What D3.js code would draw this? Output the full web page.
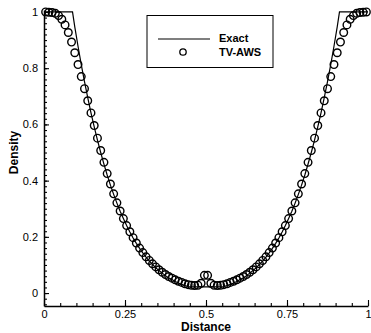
<!DOCTYPE html>
<html>
<head>
<meta charset="utf-8">
<script src="https://cdn.jsdelivr.net/npm/d3@7"></script>
<style>
  body { margin: 0; background: #fff; }
  text { font-family: "Liberation Sans", Arial, sans-serif; fill: #000; }
</style>
</head>
<body>
<svg id="chart"></svg>
<script>
const width = 371, height = 333;

// exact solution (distance, density)
const exactX = [0, 0.088, 0.095, 0.105, 0.115, 0.125, 0.135, 0.145, 0.155, 0.165, 0.175, 0.185, 0.195,
  0.205, 0.215, 0.225, 0.235, 0.245, 0.255, 0.265, 0.275, 0.285, 0.295, 0.305, 0.315, 0.325, 0.335,
  0.345, 0.355, 0.365, 0.375, 0.385, 0.395, 0.405, 0.415, 0.425, 0.435, 0.445, 0.448,
  0.552, 0.555, 0.565, 0.575, 0.585, 0.595, 0.605, 0.615, 0.625, 0.635, 0.645, 0.655, 0.665, 0.675,
  0.685, 0.695, 0.705, 0.715, 0.725, 0.735, 0.745, 0.755, 0.765, 0.775, 0.785, 0.795, 0.805, 0.815,
  0.825, 0.835, 0.845, 0.855, 0.865, 0.875, 0.885, 0.895, 0.905, 0.912, 1];
const exactRho = [1, 1, 0.947, 0.878, 0.813, 0.752, 0.695, 0.641, 0.591, 0.544, 0.500, 0.459, 0.420,
  0.384, 0.351, 0.320, 0.291, 0.265, 0.240, 0.217, 0.196, 0.177, 0.159, 0.143, 0.128, 0.114, 0.102,
  0.090, 0.080, 0.071, 0.062, 0.054, 0.048, 0.041, 0.036, 0.031, 0.027, 0.023, 0.022,
  0.022, 0.023, 0.027, 0.031, 0.036, 0.041, 0.048, 0.054, 0.062, 0.071, 0.080, 0.090, 0.102, 0.114,
  0.128, 0.143, 0.159, 0.177, 0.196, 0.217, 0.240, 0.265, 0.291, 0.320, 0.351, 0.384, 0.420, 0.459,
  0.500, 0.544, 0.591, 0.641, 0.695, 0.752, 0.813, 0.878, 0.947, 1, 1];

// TV-AWS cell values, 100 cells
const cellX = d3.range(100).map(i => (i + 0.5) / 100);
const awsRho = [
  1.000, 0.999, 0.998, 0.995, 0.987, 0.974, 0.954, 0.927, 0.893, 0.855,
  0.813, 0.770, 0.727, 0.684, 0.641, 0.596, 0.551, 0.507, 0.465, 0.425,
  0.388, 0.353, 0.321, 0.292, 0.265, 0.240, 0.218, 0.197, 0.178, 0.160,
  0.144, 0.129, 0.116, 0.104, 0.093, 0.083, 0.074, 0.066, 0.059, 0.053,
  0.047, 0.042, 0.038, 0.033, 0.030, 0.028, 0.027, 0.028, 0.035, 0.063,
  0.063, 0.035, 0.028, 0.027, 0.028, 0.030, 0.033, 0.038, 0.042, 0.047,
  0.053, 0.059, 0.066, 0.074, 0.083, 0.093, 0.104, 0.116, 0.129, 0.144,
  0.160, 0.178, 0.197, 0.218, 0.240, 0.265, 0.292, 0.321, 0.353, 0.388,
  0.425, 0.465, 0.507, 0.551, 0.596, 0.641, 0.684, 0.727, 0.770, 0.813,
  0.855, 0.893, 0.927, 0.954, 0.974, 0.987, 0.995, 0.998, 0.999, 1.000];

const xTicks = [0, 0.25, 0.5, 0.75, 1];
const xTickLabels = ["0", "0.25", "0.5", "0.75", "1"];
const yTicks = [0, 0.2, 0.4, 0.6, 0.8, 1];
const yTickLabels = ["0", "0.2", "0.4", "0.6", "0.8", "1"];

const svg = d3.select("#chart")
              .attr("width", width)
              .attr("height", height);

const x = d3.scaleLinear().domain([0, 1]).range([44, 368]);
const y = d3.scaleLinear().domain([-0.046, 1.007]).range([306, 10]);

// minor ticks
svg.append("g")
   .attr("transform", `translate(0,${y.range()[0]})`)
   .call(d3.axisBottom(x).tickValues(d3.range(0, 1.0001, 0.05)).tickSize(-3).tickSizeOuter(0).tickFormat(""))
   .call(g => g.select(".domain").remove());
svg.append("g")
   .attr("transform", `translate(${x.range()[0]},0)`)
   .call(d3.axisLeft(y).tickValues(d3.range(-0.04, 1.0001, 0.02)).tickSize(-3).tickSizeOuter(0).tickFormat(""))
   .call(g => g.select(".domain").remove());

// major axes
const xAxis = svg.append("g")
   .attr("transform", `translate(0,${y.range()[0]})`)
   .call(d3.axisBottom(x).tickValues(xTicks).tickSize(-6).tickSizeOuter(0).tickPadding(4)
          .tickFormat((d, i) => xTickLabels[i]));
const yAxis = svg.append("g")
   .attr("transform", `translate(${x.range()[0]},0)`)
   .call(d3.axisLeft(y).tickValues(yTicks).tickSize(-5).tickSizeOuter(0).tickPadding(6)
          .tickFormat((d, i) => yTickLabels[i]));

[xAxis, yAxis].forEach(g => {
  g.selectAll("text").style("font-size", "11px").attr("fill", "#000");
  g.select(".domain").attr("stroke-width", 1.5);
});
svg.selectAll(".tick line").attr("stroke", "#000").attr("stroke-width", 1.1);

// axis titles
svg.append("text")
   .attr("x", x(0.5)).attr("y", 331)
   .attr("text-anchor", "middle")
   .style("font-size", "12px").style("font-weight", "bold")
   .text("Distance");
svg.append("text")
   .attr("transform", `translate(18,${y(0.5)}) rotate(-90)`)
   .attr("text-anchor", "middle")
   .style("font-size", "12px").style("font-weight", "bold")
   .text("Density");

// exact line
const line = d3.line().x(d => x(d[0])).y(d => y(d[1]));
svg.append("path")
   .datum(exactX.map((d, i) => [d, exactRho[i]]))
   .attr("d", line)
   .attr("fill", "none")
   .attr("stroke", "#000")
   .attr("stroke-width", 1.2);

// TV-AWS symbols
svg.append("g")
   .selectAll("circle")
   .data(cellX.map((d, i) => [d, awsRho[i]]))
   .enter()
   .append("circle")
   .attr("cx", d => x(d[0]))
   .attr("cy", d => y(d[1]))
   .attr("r", 3.8)
   .attr("fill", "none")
   .attr("stroke", "#000")
   .attr("stroke-width", 1.4);

// legend
const legend = svg.append("g");
legend.append("rect")
      .attr("x", 147).attr("y", 15.5)
      .attr("width", 126).attr("height", 52)
      .attr("fill", "#fff").attr("stroke", "#000").attr("stroke-width", 1);
legend.append("line")
      .attr("x1", 158).attr("x2", 210).attr("y1", 39).attr("y2", 39)
      .attr("stroke", "#000").attr("stroke-width", 1.2);
legend.append("circle")
      .attr("cx", 183).attr("cy", 52).attr("r", 3.2)
      .attr("fill", "none").attr("stroke", "#000").attr("stroke-width", 1.3);
legend.append("text")
      .attr("x", 219).attr("y", 42)
      .style("font-size", "11px").style("font-weight", "bold")
      .text("Exact");
legend.append("text")
      .attr("x", 219).attr("y", 56)
      .style("font-size", "11px").style("font-weight", "bold")
      .text("TV-AWS");
</script>
</body>
</html>
